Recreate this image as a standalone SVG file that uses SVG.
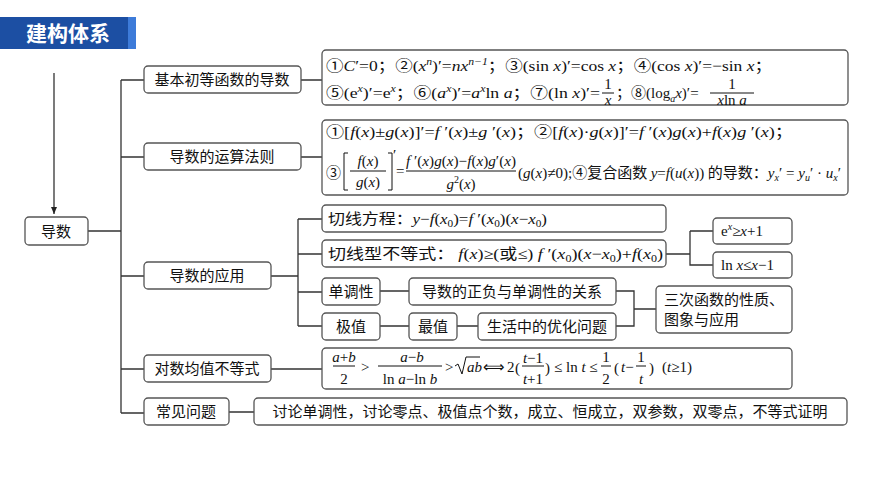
<svg xmlns="http://www.w3.org/2000/svg" width="870" height="489" viewBox="0 0 870 489">
<defs>
<marker id="ah" markerWidth="8" markerHeight="8" refX="7" refY="4" orient="auto" markerUnits="userSpaceOnUse"><path d="M0,1 L7,4 L0,7 z" fill="#222"/></marker>
<style>
.box{fill:#fff;stroke:#555;stroke-width:1.3}
.cn{font-family:"Noto Sans CJK SC",sans-serif;font-size:15px;fill:#111;text-anchor:middle}
.st{text-anchor:start}
.m{font-family:"Liberation Serif","Noto Sans CJK SC",serif;font-size:15px;fill:#111}
.i{font-style:italic}
.k{font-family:"Noto Sans CJK SC",sans-serif;font-style:normal}
.s{font-size:10px}
.fl{stroke:#111;stroke-width:1}
.c{fill:none;stroke:#333;stroke-width:1.3}
</style>
</defs>
<rect width="870" height="489" fill="#fff"/>
<g id="title">
<rect x="0" y="17" width="136" height="32" fill="#1c4fa3"/>
<rect x="128" y="17" width="8" height="32" fill="#3d7bd9"/>
<text x="68" y="41" font-family="Noto Sans CJK SC,sans-serif" font-size="21" font-weight="bold" fill="#fff" text-anchor="middle">建构体系</text>
</g>
<g id="connectors">
<path class="c" d="M54 73V214" marker-end="url(#ah)"/>
<path class="c" d="M88 231H121M121 80V413M121 80H144M121 157H144M121 276H144M121 369H144M121 413H144"/>
<path class="c" d="M301 80H322M301 157H322M271 276H298M298 219V326M298 219H322M298 254H322M298 292H322M298 326H322M271 369H322M229 412H254"/>
<path class="c" d="M666 254H690M690 231V265H713M690 231H713"/>
<path class="c" d="M380 291H409M380 326H409M457 326H478M616 291H634V326H616M634 309H656"/>
</g>
<g id="n-daoshu"><rect class="box" x="25" y="217" width="63" height="28" rx="4"/><text class="cn" x="56" y="237">导数</text></g>
<g id="n-basic"><rect class="box" x="144" y="66" width="157" height="27" rx="4"/><text class="cn" x="222" y="85">基本初等函数的导数</text></g>
<g id="n-rules"><rect class="box" x="144" y="143" width="157" height="27" rx="4"/><text class="cn" x="222" y="162">导数的运算法则</text></g>
<g id="n-app"><rect class="box" x="144" y="262" width="127" height="27" rx="4"/><text class="cn" x="207" y="281">导数的应用</text></g>
<g id="n-logmean"><rect class="box" x="144" y="355" width="127" height="27" rx="4"/><text class="cn" x="207" y="374">对数均值不等式</text></g>
<g id="n-common"><rect class="box" x="144" y="398" width="85" height="27" rx="4"/><text class="cn" x="186" y="417">常见问题</text></g>
<g id="n-f1"><rect class="box" x="322" y="50" width="526" height="55" rx="4"/>
<text class="m" x="326" y="71" textLength="446" lengthAdjust="spacingAndGlyphs"><tspan class="k">①</tspan><tspan class="i">C</tspan>′=0<tspan class="k">；②</tspan>(<tspan class="i">x</tspan><tspan class="s i" dy="-6">n</tspan><tspan dy="6">)′=</tspan><tspan class="i">nx</tspan><tspan class="s i" dy="-6">n−1</tspan><tspan class="k" dy="6">；③</tspan>(sin <tspan class="i">x</tspan>)′=cos <tspan class="i">x</tspan><tspan class="k">；④</tspan>(cos <tspan class="i">x</tspan>)′=−sin <tspan class="i">x</tspan><tspan class="k">；</tspan></text>
<text class="m" x="326" y="98" textLength="274" lengthAdjust="spacingAndGlyphs"><tspan class="k">⑤</tspan>(e<tspan class="s i" dy="-6">x</tspan><tspan dy="6">)′=e</tspan><tspan class="s i" dy="-6">x</tspan><tspan class="k" dy="6">；⑥</tspan>(<tspan class="i">a</tspan><tspan class="s i" dy="-6">x</tspan><tspan dy="6">)′=</tspan><tspan class="i">a</tspan><tspan class="s i" dy="-6">x</tspan><tspan dy="6">ln </tspan><tspan class="i">a</tspan><tspan class="k">；⑦</tspan>(ln <tspan class="i">x</tspan>)′=</text>
<text class="m" x="608" y="89" text-anchor="middle">1</text><line class="fl" x1="602" y1="93" x2="614" y2="93"/><text class="m i" x="608" y="105" text-anchor="middle">x</text>
<text class="m" x="616" y="98"><tspan class="k">；⑧</tspan>(log<tspan class="s i" dy="4">a</tspan><tspan class="i" dy="-4">x</tspan>)′=</text>
<text class="m" x="732" y="89" text-anchor="middle">1</text><line class="fl" x1="710" y1="93" x2="754" y2="93"/><text class="m" x="732" y="105" text-anchor="middle"><tspan class="i">x</tspan>ln <tspan class="i">a</tspan></text>
</g>
<g id="n-f2"><rect class="box" x="322" y="120" width="526" height="75" rx="4"/>
<text class="m" x="326" y="137" textLength="467" lengthAdjust="spacingAndGlyphs"><tspan class="k">①</tspan>[<tspan class="i">f</tspan>(<tspan class="i">x</tspan>)±<tspan class="i">g</tspan>(<tspan class="i">x</tspan>)]′=<tspan class="i">f</tspan> ′(<tspan class="i">x</tspan>)±<tspan class="i">g</tspan> ′(<tspan class="i">x</tspan>)<tspan class="k">；②</tspan>[<tspan class="i">f</tspan>(<tspan class="i">x</tspan>)·<tspan class="i">g</tspan>(<tspan class="i">x</tspan>)]′=<tspan class="i">f</tspan> ′(<tspan class="i">x</tspan>)<tspan class="i">g</tspan>(<tspan class="i">x</tspan>)+<tspan class="i">f</tspan>(<tspan class="i">x</tspan>)<tspan class="i">g</tspan> ′(<tspan class="i">x</tspan>)<tspan class="k">；</tspan></text>
<text class="m k" x="326" y="178">③</text>
<path class="fl" fill="none" d="M348 153H344V190H348M388 153H392V190H388"/>
<text class="m" x="393" y="160">′</text>
<text class="m" x="368" y="166" text-anchor="middle"><tspan class="i">f</tspan>(<tspan class="i">x</tspan>)</text><line class="fl" x1="350" y1="171" x2="386" y2="171"/><text class="m" x="368" y="187" text-anchor="middle"><tspan class="i">g</tspan>(<tspan class="i">x</tspan>)</text>
<text class="m" x="396" y="176">=</text>
<text class="m" x="406" y="166" textLength="110" lengthAdjust="spacingAndGlyphs"><tspan class="i">f</tspan> ′(<tspan class="i">x</tspan>)<tspan class="i">g</tspan>(<tspan class="i">x</tspan>)−<tspan class="i">f</tspan>(<tspan class="i">x</tspan>)<tspan class="i">g</tspan>′(<tspan class="i">x</tspan>)</text>
<line class="fl" x1="406" y1="171" x2="516" y2="171"/>
<text class="m" x="461" y="189" text-anchor="middle"><tspan class="i">g</tspan><tspan class="s" dy="-6">2</tspan><tspan dy="6">(</tspan><tspan class="i">x</tspan>)</text>
<text class="m" x="518" y="178" textLength="323" lengthAdjust="spacingAndGlyphs">(<tspan class="i">g</tspan>(<tspan class="i">x</tspan>)≠0);<tspan class="k">④复合函数 </tspan><tspan class="i">y</tspan>=<tspan class="i">f</tspan>(<tspan class="i">u</tspan>(<tspan class="i">x</tspan>))<tspan class="k"> 的导数：</tspan><tspan class="i">y</tspan><tspan class="s i" dy="3">x</tspan><tspan dy="-3">′ = </tspan><tspan class="i">y</tspan><tspan class="s i" dy="3">u</tspan><tspan dy="-3">′ · </tspan><tspan class="i">u</tspan><tspan class="s i" dy="3">x</tspan><tspan dy="-3">′</tspan></text>
</g>
<g id="n-tangent"><rect class="box" x="322" y="205" width="344" height="27" rx="4"/>
<text class="m" x="328" y="224" textLength="219" lengthAdjust="spacingAndGlyphs"><tspan class="k">切线方程：</tspan><tspan class="i">y</tspan>−<tspan class="i">f</tspan>(<tspan class="i">x</tspan><tspan class="s" dy="3">0</tspan><tspan dy="-3">)=</tspan><tspan class="i">f</tspan> ′(<tspan class="i">x</tspan><tspan class="s" dy="3">0</tspan><tspan dy="-3">)(</tspan><tspan class="i">x</tspan>−<tspan class="i">x</tspan><tspan class="s" dy="3">0</tspan><tspan dy="-3">)</tspan></text></g>
<g id="n-tanineq"><rect class="box" x="322" y="240" width="344" height="27" rx="4"/>
<text class="m" x="328" y="259" textLength="335" lengthAdjust="spacingAndGlyphs"><tspan class="k">切线型不等式： </tspan><tspan class="i">f</tspan>(<tspan class="i">x</tspan>)≥(<tspan class="k">或</tspan>≤) <tspan class="i">f</tspan> ′(<tspan class="i">x</tspan><tspan class="s" dy="3">0</tspan><tspan dy="-3">)(</tspan><tspan class="i">x</tspan>−<tspan class="i">x</tspan><tspan class="s" dy="3">0</tspan><tspan dy="-3">)+</tspan><tspan class="i">f</tspan>(<tspan class="i">x</tspan><tspan class="s" dy="3">0</tspan><tspan dy="-3">)</tspan></text></g>
<g id="n-ex"><rect class="box" x="713" y="218" width="79" height="26" rx="4"/><text class="m" x="721" y="236">e<tspan class="s i" dy="-6">x</tspan><tspan dy="6">≥</tspan><tspan class="i">x</tspan>+1</text></g>
<g id="n-lnx"><rect class="box" x="713" y="252" width="79" height="26" rx="4"/><text class="m" x="721" y="270">ln <tspan class="i">x</tspan>≤<tspan class="i">x</tspan>−1</text></g>
<g id="n-mono"><rect class="box" x="322" y="278" width="58" height="27" rx="4"/><text class="cn" x="351" y="297">单调性</text></g>
<g id="n-sign"><rect class="box" x="409" y="278" width="207" height="27" rx="4"/><text class="cn" x="512" y="297">导数的正负与单调性的关系</text></g>
<g id="n-ext"><rect class="box" x="322" y="313" width="58" height="27" rx="4"/><text class="cn" x="351" y="332">极值</text></g>
<g id="n-max"><rect class="box" x="409" y="313" width="48" height="27" rx="4"/><text class="cn" x="433" y="332">最值</text></g>
<g id="n-opt"><rect class="box" x="478" y="313" width="138" height="27" rx="4"/><text class="cn" x="547" y="332">生活中的优化问题</text></g>
<g id="n-cubic"><rect class="box" x="656" y="286" width="136" height="47" rx="4"/><text class="cn st" x="664" y="305">三次函数的性质、</text><text class="cn st" x="664" y="325">图象与应用</text></g>
<g id="n-log"><rect class="box" x="322" y="348" width="470" height="41" rx="4"/>
<text class="m i" x="344" y="362" text-anchor="middle" font-size="14">a<tspan font-style="normal">+</tspan>b</text><line class="fl" x1="333" y1="366" x2="355" y2="366"/><text class="m" x="344" y="384" text-anchor="middle">2</text>
<text class="m" x="361" y="372">&gt;</text>
<text class="m" x="412" y="362" text-anchor="middle"><tspan class="i">a</tspan>−<tspan class="i">b</tspan></text><line class="fl" x1="378" y1="366" x2="442" y2="366"/><text class="m" x="410" y="384" text-anchor="middle">ln <tspan class="i">a</tspan>−ln <tspan class="i">b</tspan></text>
<text class="m" x="445" y="372">&gt;</text>
<path class="fl" fill="none" d="M455 366L458 364L462 374L466 357H480"/>
<text class="m i" x="467" y="372">ab</text>
<text class="m" x="483" y="372">⟺</text>
<text class="m" x="507" y="372">2</text>
<text class="m" x="515" y="373" font-size="18">(</text>
<text class="m" x="533" y="363" text-anchor="middle" font-size="13"><tspan class="i">t</tspan>−1</text><line class="fl" x1="522" y1="366" x2="544" y2="366"/><text class="m" x="533" y="384" text-anchor="middle" font-size="13"><tspan class="i">t</tspan>+1</text>
<text class="m" x="545" y="373" font-size="18">)</text>
<text class="m" x="554" y="372">≤ ln <tspan class="i">t</tspan> ≤</text>
<text class="m" x="606" y="362" text-anchor="middle">1</text><line class="fl" x1="601" y1="366" x2="611" y2="366"/><text class="m" x="606" y="384" text-anchor="middle">2</text>
<text class="m" x="614" y="373" font-size="18">(</text>
<text class="m" x="621" y="372"><tspan class="i">t</tspan>−</text>
<text class="m" x="641" y="362" text-anchor="middle">1</text><line class="fl" x1="636" y1="366" x2="646" y2="366"/><text class="m i" x="641" y="384" text-anchor="middle">t</text>
<text class="m" x="649" y="373" font-size="18">)</text>
<text class="m" x="662" y="372">(<tspan class="i">t</tspan>≥1)</text>
</g>
<g id="n-topics"><rect class="box" x="254" y="398" width="593" height="27" rx="4"/><text class="cn" x="550" y="417">讨论单调性，讨论零点、极值点个数，成立、恒成立，双参数，双零点，不等式证明</text></g>
</svg>
